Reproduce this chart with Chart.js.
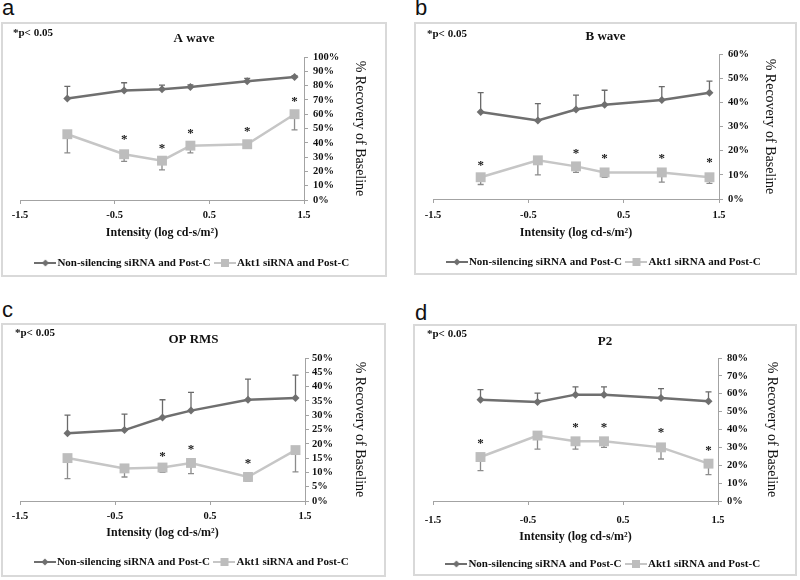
<!DOCTYPE html>
<html><head><meta charset="utf-8">
<script src="https://cdn.jsdelivr.net/npm/chart.js@4.4.1/dist/chart.umd.min.js"></script>
<style>
html,body{margin:0;padding:0;background:#fff;}
body{width:800px;height:580px;position:relative;overflow:hidden;}
.box{position:absolute;box-sizing:border-box;border:2px solid #d9d9d9;}
canvas{position:absolute;}
.lab{position:absolute;font-family:"Liberation Sans",Arial,sans-serif;font-size:22px;line-height:22px;color:#111;}
.sig{position:absolute;font-family:"Liberation Serif",serif;font-weight:bold;font-size:11px;line-height:11px;color:#111;white-space:nowrap;}
</style></head><body>
<script>
// ---------- data ----------
const intensity = [-1.0, -0.4, 0.0, 0.3, 0.9, 1.4];
const xTickValues = [-1.5, -0.5, 0.5, 1.5];
const seriesNames = ['Non-silencing siRNA and Post-C', 'Akt1 siRNA and Post-C'];
const panelLetters = ['a', 'b', 'c', 'd'];
const panelTitles = ['A wave', 'B wave', 'OP RMS', 'P2'];
const yMaxes = [100, 60, 50, 80];
const ySteps = [10, 10, 5, 10];
const xAxisTitle = 'Intensity (log cd-s/m\u00B2)';
const yAxisTitle = '% Recovery of Baseline';
const sigNote = '*p< 0.05';

const aWaveNonSil    = [71, 76.5, 77.5, 79, 83, 86];
const aWaveNonSilErr = [8.5, 5.5, 2.8, 1.5, 2, 1];
const aWaveAkt1      = [46, 32, 27.5, 38, 39, 60];
const aWaveAkt1Err   = [13, 5, 6.5, 5, 0, 11];
const aWaveStars     = [null, 44, 38, 48.5, 50, 70.5];

const bWaveNonSil    = [36, 32.5, 37, 39, 41, 44];
const bWaveNonSilErr = [8, 7, 6, 6, 5.5, 4.8];
const bWaveAkt1      = [9, 16, 13.5, 11, 11, 9];
const bWaveAkt1Err   = [3, 6, 2.5, 2, 4, 2.5];
const bWaveStars     = [15, null, 20, 18, 18, 16];

const opRmsNonSil    = [23.7, 24.8, 29.2, 31.6, 35.4, 36];
const opRmsNonSilErr = [6.3, 5.6, 6.2, 6.4, 7.2, 8];
const opRmsAkt1      = [15, 11.4, 11.7, 13.3, 8.4, 17.8];
const opRmsAkt1Err   = [7.2, 3, 1.7, 3.7, 1.4, 7.6];
const opRmsStars     = [null, null, 16.6, 19, 14, null];

const p2NonSil    = [56.7, 55.4, 59.5, 59.5, 57.6, 55.8];
const p2NonSilErr = [5.6, 5, 4.3, 4.3, 5.3, 5.2];
const p2Akt1      = [24.6, 36.6, 33.4, 33.4, 30, 20.9];
const p2Akt1Err   = [7.6, 7.6, 4.4, 3.4, 6.5, 6.2];
const p2Stars     = [33.4, null, 42.7, 42.7, 39.5, 29.7];

const panelData = [
  [aWaveNonSil, aWaveNonSilErr, aWaveAkt1, aWaveAkt1Err, aWaveStars],
  [bWaveNonSil, bWaveNonSilErr, bWaveAkt1, bWaveAkt1Err, bWaveStars],
  [opRmsNonSil, opRmsNonSilErr, opRmsAkt1, opRmsAkt1Err, opRmsStars],
  [p2NonSil, p2NonSilErr, p2Akt1, p2Akt1Err, p2Stars]
];

// ---------- layout (page pixels) ----------
const geo = [
  {box:{x:1,y:22,w:386,h:255}, plot:{l:20,r:304,t:57,b:200}, titleY:39, xTickY:215, xTitleY:233, legendY:263, yLabX:313, yTitleX:360, sig:{x:13,y:27}, letter:{x:2,y:-3}},
  {box:{x:414,y:22,w:383,h:253}, plot:{l:433,r:719,t:54,b:199}, titleY:37, xTickY:215, xTitleY:233, legendY:262, yLabX:728, yTitleX:770, sig:{x:427,y:28}, letter:{x:415,y:-3}},
  {box:{x:1,y:323,w:385,h:254}, plot:{l:20,r:305,t:358,b:501}, titleY:340, xTickY:516, xTitleY:533, legendY:562, yLabX:312, yTitleX:360, sig:{x:15,y:327}, letter:{x:2,y:299}},
  {box:{x:413,y:324,w:384,h:252}, plot:{l:433,r:718,t:358,b:501}, titleY:342, xTickY:520, xTitleY:537, legendY:564, yLabX:727, yTitleX:772, sig:{x:427,y:328}, letter:{x:415,y:302}}
];

const NS_COLOR = '#6f6f6f', NS_ERR = '#6a6a6a';
const AK_COLOR = '#c6c6c6', AK_MARK = '#bdbdbd', AK_ERR = '#8c8c8c';
const AXIS_COLOR = '#a3a3a3';
const SERIF = '"Liberation Serif", "Times New Roman", serif';
const Y_TITLE_SIZE = 14;

function makeIcon(lineColor, marker, markerColor) {
  const c = document.createElement('canvas');
  c.width = 22; c.height = 10;
  const g = c.getContext('2d');
  g.strokeStyle = lineColor; g.lineWidth = 2;
  g.beginPath(); g.moveTo(0, 5); g.lineTo(22, 5); g.stroke();
  g.fillStyle = markerColor;
  if (marker === 'diamond') {
    g.beginPath(); g.moveTo(11, 1.5); g.lineTo(14.5, 5); g.lineTo(11, 8.5); g.lineTo(7.5, 5); g.closePath(); g.fill();
  } else {
    g.fillRect(7, 1, 8, 8);
  }
  return c;
}
const iconNS = makeIcon(NS_COLOR, 'diamond', NS_COLOR);
const iconAK = makeIcon(AK_COLOR, 'square', AK_MARK);

const errorBarPlugin = {
  id: 'errorBars',
  beforeDatasetsDraw(chart) {
    const ctx = chart.ctx, ys = chart.scales.y;
    chart.data.datasets.forEach((ds, i) => {
      if (!ds.errors) return;
      const meta = chart.getDatasetMeta(i);
      ctx.save();
      ctx.strokeStyle = ds.errorColor; ctx.lineWidth = 1.3;
      meta.data.forEach((pt, j) => {
        const e = ds.errors[j];
        if (!e) return;
        const v = ds.data[j].y;
        const yEnd = ys.getPixelForValue(v + ds.errorDir * e);
        ctx.beginPath();
        ctx.moveTo(pt.x, pt.y); ctx.lineTo(pt.x, yEnd);
        ctx.moveTo(pt.x - 3, yEnd); ctx.lineTo(pt.x + 3, yEnd);
        ctx.stroke();
      });
      ctx.restore();
    });
  }
};

const starPlugin = {
  id: 'stars',
  afterDatasetsDraw(chart, args, opts) {
    const ctx = chart.ctx, xs = chart.scales.x, ys = chart.scales.y;
    ctx.save();
    ctx.fillStyle = '#1a1a1a';
    ctx.font = 'bold 13px ' + SERIF;
    ctx.textAlign = 'center'; ctx.textBaseline = 'alphabetic';
    opts.values.forEach((v, j) => {
      if (v == null) return;
      ctx.fillText('*', xs.getPixelForValue(intensity[j]), ys.getPixelForValue(v) + 6);
    });
    ctx.restore();
  }
};

function pts(arr) { return intensity.map((x, i) => ({x: x, y: arr[i]})); }

for (let p = 0; p < 4; p++) {
  const g = geo[p];
  const [ns, nsErr, ak, akErr, stars] = panelData[p];
  const W = g.box.w, H = g.box.h;
  const L = g.plot.l - g.box.x, R = g.plot.r - g.box.x;
  const T = g.plot.t - g.box.y, B = g.plot.b - g.box.y;
  const tTop = (g.titleY - g.box.y) - 7.8;
  const tBot = T - tTop - 15.6;
  const padB = H - 15.5 - (g.legendY - g.box.y);
  const legendH = 11 + 8 + 10;
  const xh = H - padB - legendH - B;
  const xTickPad = (g.xTickY - g.box.y) - B - 6 - 4;
  const xTitlePadB = (B + xh) - (g.xTitleY - g.box.y) - 7.2;
  const yW = W - R;
  const yTickPad = (g.yLabX - g.box.x) - R - 4;
  const yTitlePadT = W - (g.yTitleX - g.box.x) - Y_TITLE_SIZE * 0.6;

  const box = document.createElement('div');
  box.className = 'box';
  Object.assign(box.style, {left: g.box.x + 'px', top: g.box.y + 'px', width: W + 'px', height: H + 'px'});
  document.body.appendChild(box);

  const lab = document.createElement('div');
  lab.className = 'lab';
  lab.textContent = panelLetters[p];
  Object.assign(lab.style, {left: g.letter.x + 'px', top: g.letter.y + 'px'});
  document.body.appendChild(lab);

  const cv = document.createElement('canvas');
  cv.width = W; cv.height = H;
  Object.assign(cv.style, {left: g.box.x + 'px', top: g.box.y + 'px', width: W + 'px', height: H + 'px'});
  document.body.appendChild(cv);

  const sig = document.createElement('div');
  sig.className = 'sig';
  sig.textContent = sigNote;
  Object.assign(sig.style, {left: g.sig.x + 'px', top: g.sig.y + 'px'});
  document.body.appendChild(sig);

  new Chart(cv.getContext('2d'), {
    type: 'scatter',
    data: {
      datasets: [
        {label: seriesNames[0], data: pts(ns), xAxisID: 'x', yAxisID: 'y', showLine: true,
         borderColor: NS_COLOR, borderWidth: 2.5,
         backgroundColor: NS_COLOR, pointStyle: 'rectRot', pointRadius: 4, pointBorderWidth: 0,
         errors: nsErr, errorDir: 1, errorColor: NS_ERR},
        {label: seriesNames[1], data: pts(ak), xAxisID: 'x', yAxisID: 'y', showLine: true,
         borderColor: AK_COLOR, borderWidth: 2.5,
         backgroundColor: AK_MARK, pointStyle: 'rect', pointRadius: 7, pointBorderWidth: 0,
         errors: akErr, errorDir: -1, errorColor: AK_ERR}
      ]
    },
    options: {
      responsive: false, animation: false, devicePixelRatio: 1,
      layout: {padding: {left: 0, right: 0, top: 0, bottom: padB}},
      plugins: {
        tooltip: {enabled: false},
        title: {display: true, text: panelTitles[p], color: '#111',
                font: {family: SERIF, size: 13, weight: 'bold', lineHeight: 1.2},
                padding: {top: tTop, bottom: tBot}},
        legend: {display: true, position: 'bottom',
                 labels: {usePointStyle: true, pointStyleWidth: 13, padding: 8, color: '#111',
                          font: {family: SERIF, size: 11, weight: 'bold'},
                          generateLabels(chart) {
                            const items = Chart.defaults.plugins.legend.labels.generateLabels(chart);
                            items.forEach((it, k) => { it.pointStyle = k === 0 ? iconNS : iconAK; it.lineWidth = 0; });
                            return items;
                          }}},
        stars: {values: stars}
      },
      scales: {
        x: {type: 'linear', position: 'bottom', min: -1.5, max: 1.5,
            afterBuildTicks(s) { s.ticks = xTickValues.map(v => ({value: v})); },
            afterFit(s) { s.height = xh; },
            grid: {display: true, drawOnChartArea: false, drawTicks: true, tickLength: 4, color: AXIS_COLOR},
            border: {display: true, color: AXIS_COLOR, width: 1},
            ticks: {padding: xTickPad, autoSkip: false, maxRotation: 0, color: '#111',
                    font: {family: SERIF, size: 10.5, weight: 'bold'},
                    callback: v => String(v)},
            title: {display: true, text: xAxisTitle, color: '#111',
                    font: {family: SERIF, size: 12, weight: 'bold', lineHeight: 1.2},
                    padding: {top: 0, bottom: xTitlePadB}}},
        yl: {type: 'linear', position: 'left', display: true,
             afterFit(s) { s.width = L; },
             grid: {display: false}, border: {display: false}, ticks: {display: false}},
        y: {type: 'linear', position: 'right', min: 0, max: yMaxes[p],
            afterFit(s) { s.width = yW; },
            grid: {display: true, drawOnChartArea: false, drawTicks: true, tickLength: 4, color: AXIS_COLOR},
            border: {display: true, color: AXIS_COLOR, width: 1},
            ticks: {stepSize: ySteps[p], autoSkip: false, padding: yTickPad, color: '#111',
                    font: {family: SERIF, size: 10.5, weight: 'bold'}, callback: v => v + '%'},
            title: {display: true, text: yAxisTitle, color: '#111',
                    font: {family: SERIF, size: Y_TITLE_SIZE, lineHeight: 1.2},
                    padding: {top: yTitlePadT, bottom: 0}}}
      }
    },
    plugins: [errorBarPlugin, starPlugin]
  });
}
</script>
</body></html>
